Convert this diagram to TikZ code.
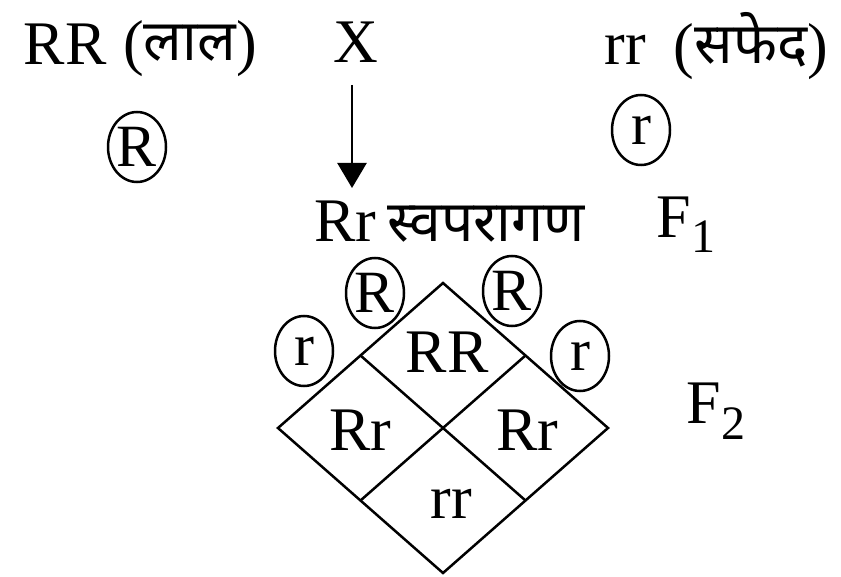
\documentclass[tikz,border=0pt]{standalone}
\usepackage{fontspec}
\setmainfont{Liberation Serif}
\newfontfamily\devfont[Script=Devanagari]{Noto Sans}
\newcommand\devtxt[1]{{\devfont\fontsize{57}{60}\selectfont #1}}
\usetikzlibrary{arrows.meta,shapes.geometric,calc}
\begin{document}
\begin{tikzpicture}[x=1pt,y=-1pt,
  lat/.style={font=\fontsize{62}{70}\selectfont, inner sep=0pt, anchor=base},
  allele/.style={ellipse, draw, line width=2.5pt, minimum width=58pt, minimum height=70pt, inner sep=0pt, font=\fontsize{60}{66}\selectfont},
  grid/.style={line width=2.5pt, line join=miter},
  arr/.style={line width=2.5pt, -{Triangle[length=25pt,width=29pt]}}]
\useasboundingbox (0,0) rectangle (841,577);
% parents
\node[lat] (RR) at (65,65) {RR};
\node[lat] (lal) at (190,64) {(\raisebox{3pt}{\devtxt{लाल}})};
\node[lat] (X) at (356,63) {X};
\node[lat] (rr) at (625,65) {rr};
\node[lat] (safed) at (751,67) {(\raisebox{3pt}{\devtxt{सफेद}})};
% gametes
\node[allele] (gR) at (137,147) {R};
\node[allele] (gr) at (641,130) {r};
% arrow
\coordinate (a1) at (352,85);
\coordinate (a2) at (352,188);
\draw[arr] (a1) -- (a2);
% F1
\node[lat] (F1Rr) at (345,242) {Rr};
\node[lat] (self) at (486,242) {\devtxt{स्वपरागण}};
\node[lat] (F1) at (686,238) {F\raisebox{-15pt}{\fontsize{48}{50}\selectfont 1}};
% diamond
\coordinate (T) at (443,283);
\coordinate (L) at (278,428);
\coordinate (Rt) at (608,428);
\coordinate (B) at (443,573);
\draw[grid] (T) -- (Rt) -- (B) -- (L) -- cycle;
\draw[grid] ($(T)!0.5!(L)$) -- ($(Rt)!0.5!(B)$);
\draw[grid] ($(T)!0.5!(Rt)$) -- ($(L)!0.5!(B)$);
\node[lat] (cRR) at (447,373) {RR};
\node[lat] (cRr1) at (360,450) {Rr};
\node[lat] (cRr2) at (527,450) {Rr};
\node[lat] (crr) at (451,518) {rr};
% F2 gametes
\node[allele] (g1) at (375,293) {R};
\node[allele] (g2) at (512,291) {R};
\node[allele] (g3) at (304,351) {r};
\node[allele] (g4) at (580,356) {r};
\node[lat] (F2) at (716,423) {F\raisebox{-17pt}{\fontsize{48}{50}\selectfont 2}};
\end{tikzpicture}
\end{document}
